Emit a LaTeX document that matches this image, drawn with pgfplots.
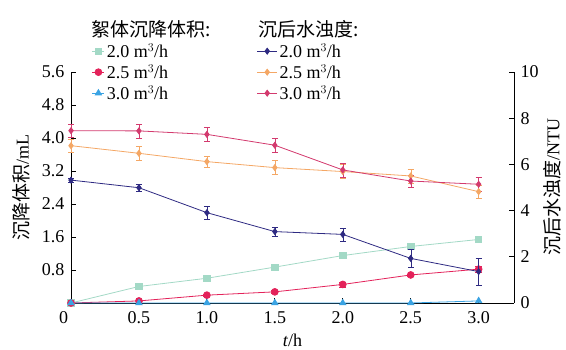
\documentclass[border=0pt]{standalone}
\usepackage{pgfplots}
\pgfplotsset{compat=1.18}
\usepackage{fontspec}
\setmainfont{Liberation Serif}
\newfontfamily\cjk{Noto Sans CJK SC}
\definecolor{cGreen}{HTML}{A3D9C6}
\definecolor{cRed}{HTML}{E3225A}
\definecolor{cBlue}{HTML}{3AA3E3}
\definecolor{cNavy}{HTML}{2E2A82}
\definecolor{cOrange}{HTML}{F4A765}
\definecolor{cPink}{HTML}{D33A6E}
\pgfplotsset{
  legL/.style={legend image code/.code={%
    \draw[mark repeat=2,mark phase=2] plot coordinates {(0pt,0pt)(6pt,0pt)(12pt,0pt)};}},
  legR/.style={legend image code/.code={%
    \draw[mark repeat=2,mark phase=2] plot coordinates {(0pt,0pt)(10pt,0pt)(20pt,0pt)};}},
  common/.style={
    scale only axis, width=443pt, height=231pt,
    xmin=0, xmax=3.26,
    axis line style={line width=0.9pt},
    tick align=inside, major tick length=5pt,
    tick style={black, line width=0.8pt},
    /pgf/number format/assume math mode=true,
    font=\fontsize{18}{20}\selectfont,
    ticklabel style={font=\fontsize{18}{20}\selectfont},
    legend style={draw=none, fill=none,
      font=\fontsize{18}{20}\selectfont, row sep=1.5pt, cells={anchor=west},
      inner sep=0pt},
    clip=false,
  },
}
\begin{document}
\begin{tikzpicture}
\begin{axis}[
  common, legL,
  ymin=0, ymax=5.6,
  axis y line*=left, axis x line*=bottom,
  xtick={0,0.5,1,1.5,2,2.5,3},
  xticklabels={\makebox[0pt][r]{0\hspace{3pt}},0.5,1.0,1.5,2.0,2.5,3.0},
  xticklabel style={yshift=-5pt},
  ytick={0.8,1.6,2.4,3.2,4.0,4.8,5.6},
  yticklabels={0.8,1.6,2.4,3.2,4.0,4.8,5.6},
  yticklabel style={xshift=-3pt},
  xlabel={\textit{t}/h},
  xlabel style={at={(axis description cs:0.5,-0.16)}, anchor=center},
  ylabel={{\cjk\fontsize{19}{21}\selectfont 沉降体积}/mL},
  ylabel style={at={(axis description cs:-0.112,0.5)}, anchor=center},
  legend style={at={(0.047,1.233)}, anchor=north west},
]
\path (axis description cs:-0.1603,1.3117) (axis description cs:1.1174,-0.1948);
\addlegendimage{empty legend}
\addlegendentry{\hspace{-15pt}{\cjk\fontsize{19}{21}\selectfont 絮体沉降体积:}\rule[-19pt]{0pt}{10pt}}
\addplot[cGreen, line width=0.8pt, mark=square*, mark size=3.2pt] coordinates {
  (0,0) (0.5,0.40) (1.0,0.60) (1.5,0.87) (2.0,1.15) (2.5,1.37) (3.0,1.54)};
\addlegendentry{2.0 m$^3$/h}
\addplot[cRed, line width=0.8pt, mark=*, mark size=3.4pt,
  error bars/.cd, y dir=both, y explicit] coordinates {
  (0,0) +- (0,0) (0.5,0.05) +- (0,0.02) (1.0,0.19) +- (0,0.03) (1.5,0.27) +- (0,0.03)
  (2.0,0.45) +- (0,0.06) (2.5,0.68) +- (0,0.03) (3.0,0.82) +- (0,0.08)};
\addlegendentry{2.5 m$^3$/h}
\addplot[cBlue, line width=0.8pt, mark=triangle*, mark size=3.6pt] coordinates {
  (0,0) (0.5,0) (1.0,0) (1.5,0) (2.0,0) (2.5,0) (3.0,0.05)};
\addlegendentry{3.0 m$^3$/h}
\end{axis}
\begin{axis}[
  common, legR,
  ymin=0, ymax=10,
  axis y line*=right, axis x line=none,
  ytick={0,2,4,6,8,10},
  yticklabel style={xshift=3pt},
  ylabel={{\cjk\fontsize{19}{21}\selectfont 沉后水浊度}/NTU},
  ylabel style={at={(axis description cs:1.086,0.5)}, anchor=center, rotate=0},
  legend style={at={(0.419,1.233)}, anchor=north west},
]
\addlegendimage{empty legend}
\addlegendentry{\hspace{-21pt}{\cjk\fontsize{19}{21}\selectfont 沉后水浊度:}\rule[-19pt]{0pt}{10pt}}
\addplot[cNavy, line width=0.8pt, mark=diamond*, mark size=3pt,
  error bars/.cd, y dir=both, y explicit] coordinates {
  (0,5.32) +- (0,0.08) (0.5,4.99) +- (0,0.15) (1.0,3.91) +- (0,0.3) (1.5,3.09) +- (0,0.2)
  (2.0,2.97) +- (0,0.28) (2.5,1.93) +- (0,0.4) (3.0,1.36) +- (0,0.6)};
\addlegendentry{2.0 m$^3$/h}
\addplot[cOrange, line width=0.8pt, mark=diamond*, mark size=3pt,
  error bars/.cd, y dir=both, y explicit] coordinates {
  (0,6.81) +- (0,0.3) (0.5,6.48) +- (0,0.3) (1.0,6.12) +- (0,0.25) (1.5,5.86) +- (0,0.3)
  (2.0,5.69) +- (0,0.3) (2.5,5.50) +- (0,0.3) (3.0,4.82) +- (0,0.3)};
\addlegendentry{2.5 m$^3$/h}
\addplot[cPink, line width=0.8pt, mark=diamond*, mark size=3pt,
  error bars/.cd, y dir=both, y explicit] coordinates {
  (0,7.46) +- (0,0.3) (0.5,7.45) +- (0,0.3) (1.0,7.30) +- (0,0.3) (1.5,6.83) +- (0,0.3)
  (2.0,5.76) +- (0,0.3) (2.5,5.28) +- (0,0.25) (3.0,5.14) +- (0,0.3)};
\addlegendentry{3.0 m$^3$/h}
\end{axis}
\end{tikzpicture}
\end{document}
